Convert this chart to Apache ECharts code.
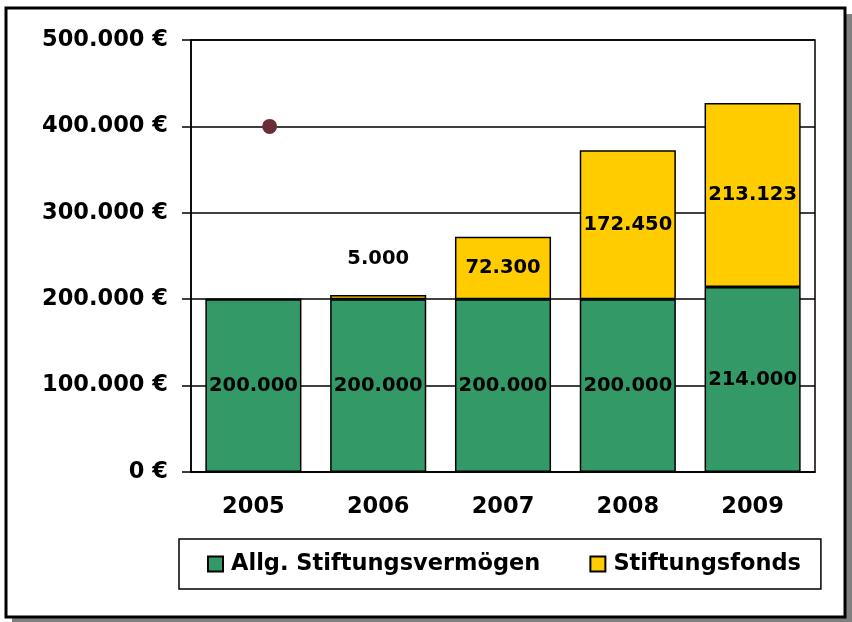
<!DOCTYPE html>
<html>
<head>
<meta charset="utf-8">
<script src="https://cdn.jsdelivr.net/npm/echarts@6/dist/echarts.min.js"></script>
<style>
  html, body { margin: 0; padding: 0; background: #fff; }
  #chart { width: 852px; height: 622px; }
</style>
</head>
<body>
<div id="chart"></div>
<script>
//--------------------- Data ---------------------------//
const years = ['2005', '2006', '2007', '2008', '2009'];
const vermoegen = [200000, 200000, 200000, 200000, 214000];
const fonds = [0, 5000, 72300, 172450, 213123];
const yTicks = [0, 100000, 200000, 300000, 400000, 500000];
// stray marker in the original, drawn on a hidden value axis
const dotPoint = [[0.63, 400000]];

//--------------------- Helpers ---------------------------//
const FONT = 'DejaVu Sans';

// German thousands separator: 200000 -> 200.000
function fmt(v) {
  return String(v).replace(/\B(?=(\d{3})+(?!\d))/g, '.');
}

//--------------------- Chart ---------------------------//
const chart = echarts.init(document.getElementById('chart'));

const option = {
  animation: false,
  textStyle: { fontFamily: FONT, color: '#000' },
  graphic: [
    // drop shadow of the outer frame
    { type: 'rect', z: -10, shape: { x: 12, y: 14, width: 840, height: 608 },
      style: { fill: '#808080' } },
    { type: 'rect', z: -9, shape: { x: 6, y: 8, width: 839, height: 609 },
      style: { fill: '#fff', stroke: '#000', lineWidth: 3 } }
  ],
  grid: {
    left: 191, right: 37, top: 40, bottom: 150,
    show: true, borderColor: '#000', borderWidth: 1.5
  },
  legend: {
    data: ['Allg. Stiftungsvermögen', 'Stiftungsfonds'],
    left: 179, top: 539,
    padding: [13, 20, 13, 28],
    itemWidth: 15, itemHeight: 15, itemGap: 49,
    borderColor: '#000', borderWidth: 1.5,
    icon: 'rect',
    textStyle: { fontFamily: FONT, fontWeight: 'bold', fontSize: 22.5, color: '#000',
                 lineHeight: 24, padding: [0, 0, 0, 3] }
  },
  xAxis: [
    {
      type: 'category', data: years,
      axisLine: { lineStyle: { color: '#000', width: 1.5 } },
      axisTick: { length: 9, lineStyle: { color: '#000', width: 1.5 } },
      axisLabel: { fontFamily: FONT, fontWeight: 'bold', fontSize: 22.5, color: '#000', margin: 24 }
    },
    { type: 'value', min: 0, max: 5, show: false }
  ],
  yAxis: {
    type: 'value', min: 0, max: 500000, interval: 100000,
    axisLine: { show: true, lineStyle: { color: '#000', width: 1.5 } },
    axisTick: { show: true, length: 9, lineStyle: { color: '#000', width: 1.5 } },
    splitLine: { lineStyle: { color: '#000', width: 1.5 } },
    axisLabel: {
      fontFamily: FONT, fontWeight: 'bold', fontSize: 22.5, color: '#000', margin: 23,
      formatter: v => yTicks.includes(v) ? fmt(v) + ' €' : ''
    }
  },
  series: [
    {
      name: 'Allg. Stiftungsvermögen', type: 'bar', stack: 'total',
      barCategoryGap: '23%',
      data: vermoegen,
      itemStyle: { color: '#339966', borderColor: '#000', borderWidth: 1.5 },
      label: { show: true, position: 'inside', formatter: p => fmt(p.value),
               fontFamily: FONT, fontWeight: 'bold', fontSize: 19.5, color: '#000' }
    },
    {
      name: 'Stiftungsfonds', type: 'bar', stack: 'total',
      data: fonds.map(v => v < 20000
        ? { value: v, label: { position: 'top', distance: 26 } }
        : v),
      itemStyle: { color: '#FFCC00', borderColor: '#000', borderWidth: 1.5 },
      label: { show: true, position: 'inside',
               formatter: p => p.value > 0 ? fmt(p.value) : '',
               fontFamily: FONT, fontWeight: 'bold', fontSize: 19.5, color: '#000' }
    },
    {
      name: 'dot', type: 'scatter', xAxisIndex: 1,
      data: dotPoint, symbolSize: 15,
      itemStyle: { color: '#6B2D35', opacity: 1 }
    }
  ]
};

option && chart.setOption(option);
</script>
</body>
</html>
